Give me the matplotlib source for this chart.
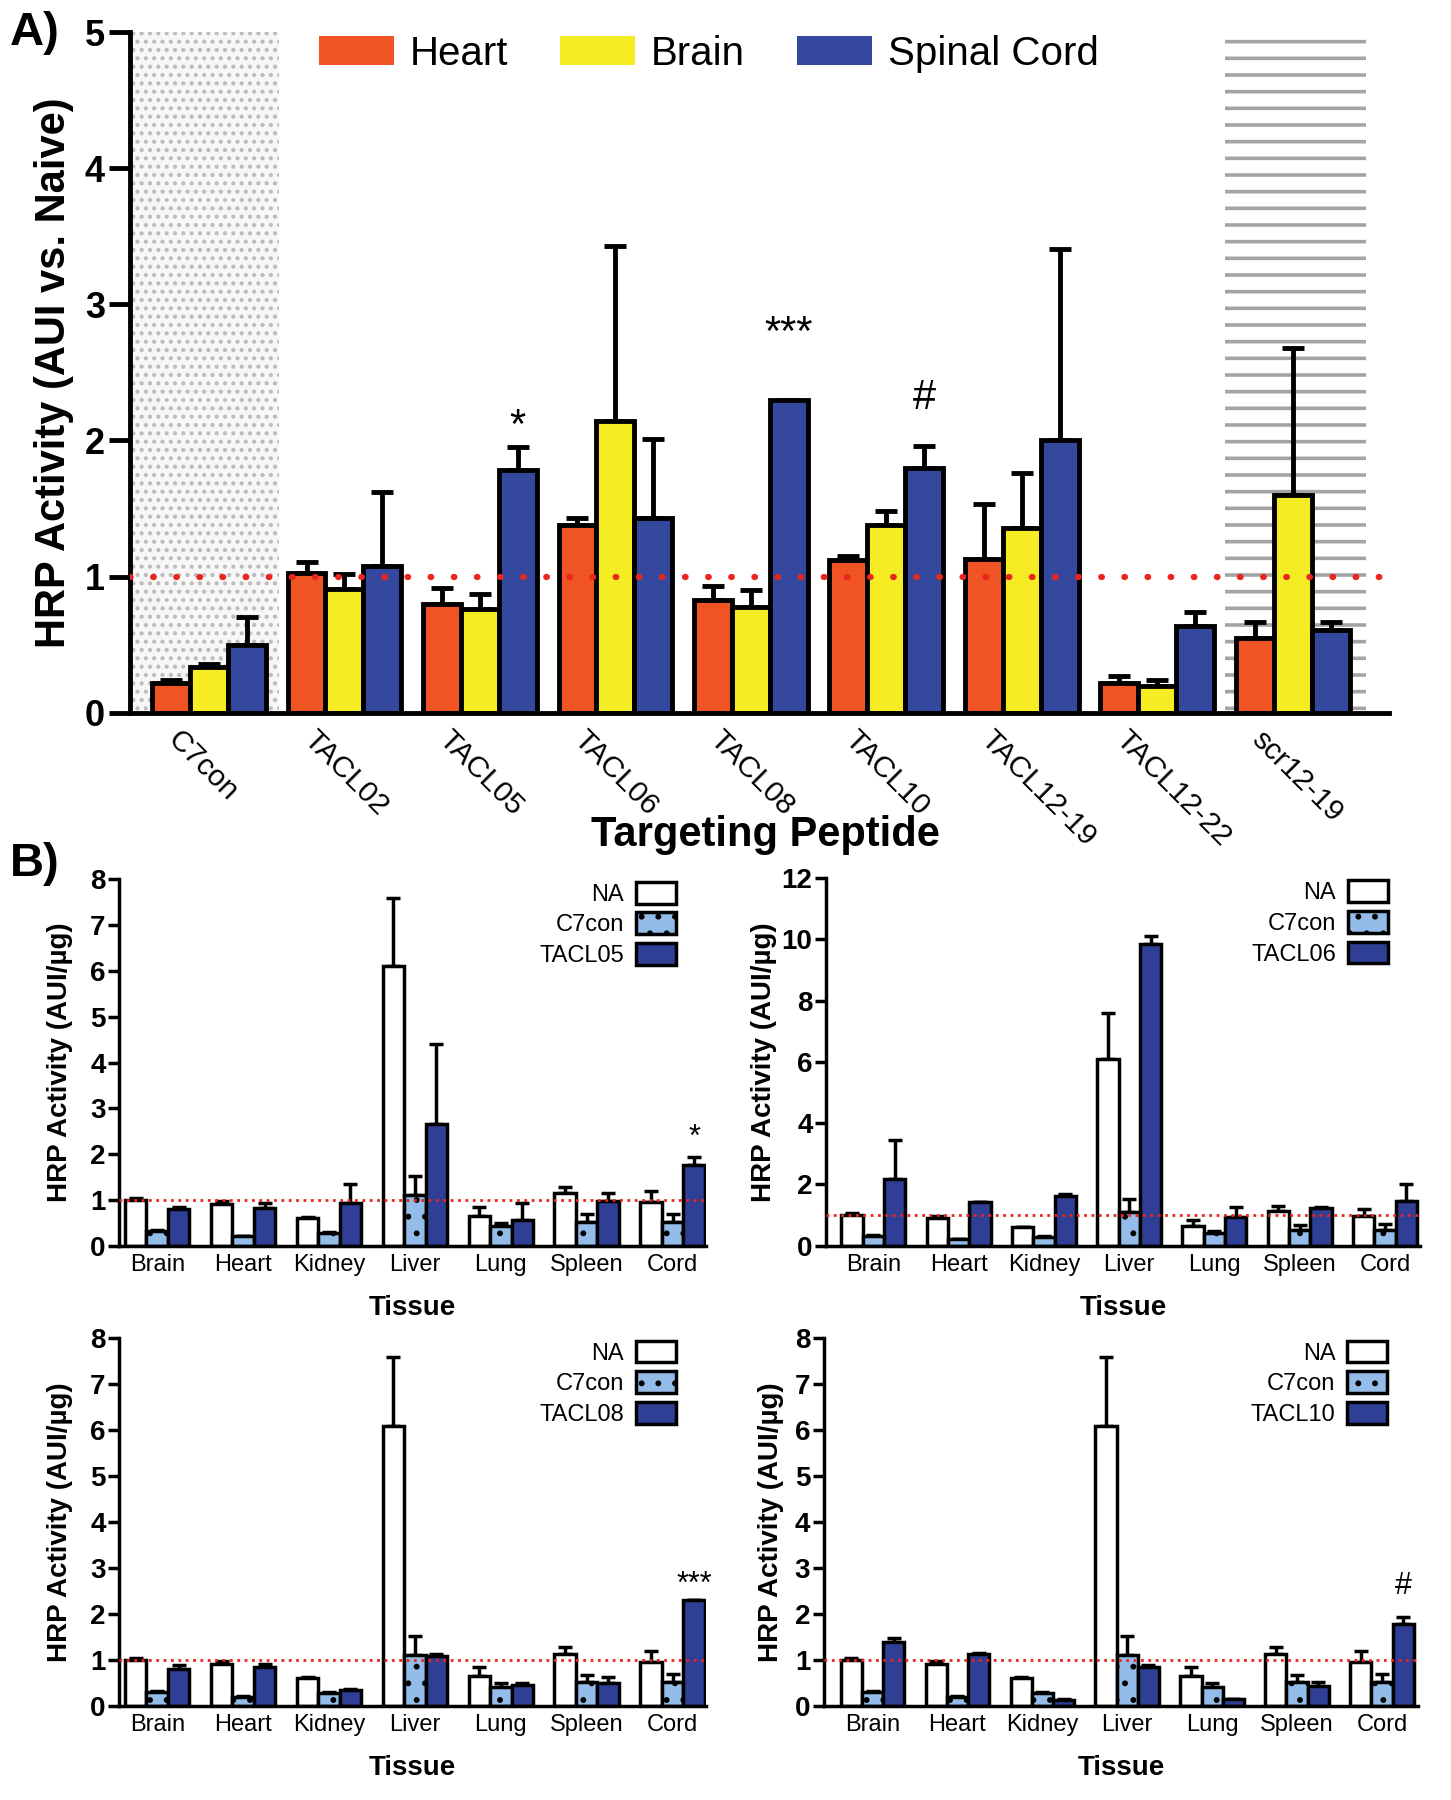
import numpy as np
import matplotlib
matplotlib.use('Agg')
import matplotlib.pyplot as plt
from matplotlib.patches import Patch
from matplotlib.transforms import ScaledTranslation

plt.rcParams['font.family'] = ['Liberation Sans', 'DejaVu Sans']
plt.rcParams['hatch.linewidth'] = 1.8

# Panel A: HRP activity (vs. naive) per targeting peptide
PEPTIDES = ['C7con', 'TACL02', 'TACL05', 'TACL06', 'TACL08', 'TACL10',
            'TACL12-19', 'TACL12-22', 'scr12-19']
HEART = [0.22, 1.03, 0.80, 1.38, 0.83, 1.12, 1.13, 0.22, 0.55]
HEART_SEM = [0.02, 0.08, 0.12, 0.05, 0.10, 0.03, 0.40, 0.05, 0.12]
BRAIN = [0.34, 0.91, 0.76, 2.14, 0.78, 1.38, 1.36, 0.20, 1.60]
BRAIN_SEM = [0.02, 0.11, 0.11, 1.29, 0.12, 0.10, 0.40, 0.04, 1.08]
SPINAL = [0.50, 1.08, 1.78, 1.43, 2.30, 1.80, 2.00, 0.64, 0.61]
SPINAL_SEM = [0.20, 0.54, 0.17, 0.58, 0.00, 0.16, 1.41, 0.10, 0.06]
TISSUES_A = ['Heart', 'Brain', 'Spinal Cord']

# significance marks in panel A: label, peptide index, height
SIG_A_LABELS = ['*', '***', '#']
SIG_A_GROUP = [2, 4, 5]
SIG_A_Y = [2.02, 2.70, 2.23]

# Panel B: HRP activity per tissue (AUI/ug)
TISSUES = ['Brain', 'Heart', 'Kidney', 'Liver', 'Lung', 'Spleen', 'Cord']
NA = [0.99, 0.91, 0.60, 6.10, 0.65, 1.14, 0.96]
NA_SEM = [0.06, 0.07, 0.02, 1.50, 0.20, 0.14, 0.23]
C7CON = [0.31, 0.20, 0.27, 1.11, 0.42, 0.51, 0.51]
C7CON_SEM = [0.02, 0.02, 0.03, 0.41, 0.07, 0.17, 0.19]

TACL05 = [0.80, 0.83, 0.92, 2.66, 0.56, 0.98, 1.77]
TACL05_SEM = [0.05, 0.09, 0.43, 1.74, 0.36, 0.16, 0.17]
TACL06 = [2.17, 1.41, 1.63, 9.86, 0.94, 1.22, 1.46]
TACL06_SEM = [1.27, 0.03, 0.07, 0.24, 0.31, 0.03, 0.54]
TACL08 = [0.80, 0.85, 0.34, 1.08, 0.46, 0.49, 2.30]
TACL08_SEM = [0.09, 0.07, 0.03, 0.04, 0.03, 0.13, 0.00]
TACL10 = [1.38, 1.12, 0.12, 0.85, 0.14, 0.43, 1.79]
TACL10_SEM = [0.09, 0.03, 0.02, 0.04, 0.02, 0.10, 0.14]

SIG_B_LABELS = ['*', '', '***', '#']
SIG_B_Y = [2.18, 0, 2.47, 2.43]

# Colours
COLORS_A = ['#f05324', '#f5ec24', '#34499d']
NA_COLOR = 'white'
C7_COLOR = '#93bde8'
PEP_COLOR = '#2f3f96'
RED = '#e8261e'


def draw_panel_a(fig):
    ax = fig.add_axes([0.0894, 0.6040, 0.8679, 0.3782])
    x = np.arange(len(PEPTIDES))
    w = 0.28

    # shaded control regions
    ax.axvspan(-0.6, 0.517, facecolor='#f7f7f7', edgecolor='#bcbcbc',
               hatch='..', lw=0, zorder=0)
    stripes = ax.axvspan(7.5, 8.54, facecolor='white', edgecolor='#a4a4a4',
                         hatch='-', lw=0, zorder=0)
    if hasattr(stripes, 'set_hatch_linewidth'):
        stripes.set_hatch_linewidth(2.6)

    series = [(HEART, HEART_SEM), (BRAIN, BRAIN_SEM), (SPINAL, SPINAL_SEM)]
    for k, (vals, sem) in enumerate(series):
        pos = x + (k - 1) * w
        ax.bar(pos, vals, w, color=COLORS_A[k], edgecolor='black',
               linewidth=3.5, zorder=2)
        ax.errorbar(pos, vals, yerr=[np.zeros(len(vals)), sem], fmt='none',
                    ecolor='black', elinewidth=3.5, capsize=8, capthick=3.5,
                    zorder=1)

    ax.axhline(1, color=RED, lw=4.5, ls=(0, (0.1, 3.6)), dash_capstyle='round',
               zorder=4)

    for lab, g, yy in zip(SIG_A_LABELS, SIG_A_GROUP, SIG_A_Y):
        ax.text(g + w, yy, lab, ha='center', va='baseline', fontsize=30)

    ax.set_xlim(-0.585, 8.71)
    ax.set_ylim(0, 5)
    ax.spines['top'].set_visible(False)
    ax.spines['right'].set_visible(False)
    ax.spines['left'].set_linewidth(3.5)
    ax.spines['bottom'].set_linewidth(3.5)

    ax.set_yticks(range(6))
    ax.set_yticklabels([str(v) for v in range(6)], fontsize=26,
                       fontweight='bold')
    ax.tick_params(axis='y', length=15, width=3.5, pad=3)
    ax.set_xticks(x)
    ax.set_xticklabels(PEPTIDES, rotation=-45, ha='left', va='top',
                       rotation_mode='anchor', fontsize=21.5)
    ax.tick_params(axis='x', length=0, pad=9)
    shift = ScaledTranslation(-0.27, 0, fig.dpi_scale_trans)
    for lbl in ax.get_xticklabels():
        lbl.set_transform(lbl.get_transform() + shift)

    ax.set_ylabel('HRP Activity (AUI vs. Naive)', fontsize=30,
                  fontweight='bold', va='center')
    ax.yaxis.set_label_coords(-0.06, 0.5)
    ax.set_xlabel('Targeting Peptide', fontsize=30, fontweight='bold',
                  va='center')
    ax.xaxis.set_label_coords(0.505, -0.179)

    handles = [Patch(facecolor=c, edgecolor='none', label=l)
               for c, l in zip(COLORS_A, TISSUES_A)]
    ax.legend(handles=handles, loc='upper center', bbox_to_anchor=(0.46, 1.02),
              ncol=3, frameon=False, fontsize=29, handlelength=1.85,
              handleheight=0.72, handletextpad=0.4, columnspacing=1.3,
              borderaxespad=0)


def draw_tissue_panel(fig, rect, xlim, ymax, ystep, vals, sem, name,
                      sig, sig_y, ylab_x, leg_x):
    ax = fig.add_axes(rect)
    x = np.arange(len(TISSUES))
    w = 0.25

    groups = [(NA, NA_SEM, NA_COLOR, None),
              (C7CON, C7CON_SEM, C7_COLOR, '.'),
              (vals, sem, PEP_COLOR, None)]
    for k, (v, s, color, hatch) in enumerate(groups):
        pos = x + (k - 1) * w
        ax.bar(pos, v, w, color=color, edgecolor='black', linewidth=2.5,
               hatch=hatch, zorder=2)
        ax.errorbar(pos, v, yerr=[np.zeros(len(v)), s], fmt='none',
                    ecolor='black', elinewidth=2.5, capsize=5, capthick=2.5,
                    zorder=1)

    ax.axhline(1, color=RED, lw=2, ls=':', zorder=4)
    if sig:
        ax.text(x[-1] + w, sig_y, sig, ha='center', va='baseline', fontsize=22)

    ax.set_xlim(*xlim)
    ax.set_ylim(0, ymax)
    ax.spines['top'].set_visible(False)
    ax.spines['right'].set_visible(False)
    ax.spines['left'].set_linewidth(2.5)
    ax.spines['bottom'].set_linewidth(2.5)

    yt = list(range(0, ymax + 1, ystep))
    ax.set_yticks(yt)
    ax.set_yticklabels([str(v) for v in yt], fontsize=20, fontweight='bold')
    ax.tick_params(axis='y', length=8, width=2.5, pad=2)
    ax.set_xticks(x)
    ax.set_xticklabels(TISSUES, fontsize=17)
    ax.tick_params(axis='x', length=0, pad=6)

    ax.set_ylabel('HRP Activity (AUI/µg)', fontsize=20, fontweight='bold',
                  va='center')
    ax.yaxis.set_label_coords(ylab_x, 0.5)
    ax.set_xlabel('Tissue', fontsize=20, fontweight='bold', va='center')
    ax.xaxis.set_label_coords(0.5, -0.17)

    handles = [Patch(facecolor=NA_COLOR, edgecolor='black', lw=2.5, label='NA'),
               Patch(facecolor=C7_COLOR, edgecolor='black', lw=2.5, hatch='.',
                     label='C7con'),
               Patch(facecolor=PEP_COLOR, edgecolor='black', lw=2.5, label=name)]
    ax.legend(handles=handles, loc='upper right', bbox_to_anchor=(leg_x, 1.02),
              frameon=False, fontsize=17, markerfirst=False, handlelength=1.7,
              handleheight=1.05, labelspacing=0.28, handletextpad=0.5,
              borderaxespad=0)


def main():
    fig = plt.figure(figsize=(14.51, 18.0), dpi=100)
    draw_panel_a(fig)

    draw_tissue_panel(fig, [0.0823, 0.3080, 0.4043, 0.2034], (-0.44, 6.39),
                      8, 1, TACL05, TACL05_SEM, 'TACL05',
                      SIG_B_LABELS[0], SIG_B_Y[0], -0.102, 0.965)
    draw_tissue_panel(fig, [0.5696, 0.3080, 0.4090, 0.2041], (-0.55, 6.41),
                      12, 2, TACL06, TACL06_SEM, 'TACL06',
                      SIG_B_LABELS[1], SIG_B_Y[1], -0.105, 0.962)
    draw_tissue_panel(fig, [0.0823, 0.0523, 0.4043, 0.2041], (-0.44, 6.39),
                      8, 1, TACL08, TACL08_SEM, 'TACL08',
                      SIG_B_LABELS[2], SIG_B_Y[2], -0.102, 0.965)
    draw_tissue_panel(fig, [0.5680, 0.0523, 0.4090, 0.2041], (-0.57, 6.42),
                      8, 1, TACL10, TACL10_SEM, 'TACL10',
                      SIG_B_LABELS[3], SIG_B_Y[3], -0.089, 0.965)

    fig.text(0.007, 0.994, 'A)', fontsize=34, fontweight='bold', va='top')
    fig.text(0.007, 0.532, 'B)', fontsize=34, fontweight='bold', va='top')

    fig.savefig('out.png', dpi=100)


if __name__ == '__main__':
    main()
